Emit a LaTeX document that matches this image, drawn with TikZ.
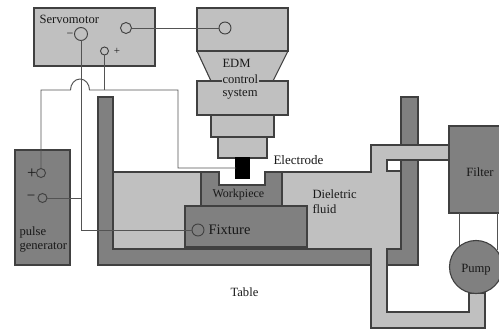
\documentclass[tikz,border=0pt]{standalone}
\usepackage{fontspec}
\setmainfont{Liberation Serif}
\usepackage{xcolor}
\usetikzlibrary{calc}
\definecolor{lightgr}{HTML}{C0C0C0}
\definecolor{darkgr}{HTML}{808080}
\definecolor{edgegr}{HTML}{404040}

\begin{document}
\begin{tikzpicture}[x=1pt, y=-1pt, line width=1.1pt,
      blk/.style={draw=edgegr, fill=lightgr, inner sep=0pt, outer sep=0pt},
      dblk/.style={blk, fill=darkgr},
      part/.style={draw=edgegr, fill=lightgr, line join=miter},
      wire/.style={draw=edgegr!90, line width=0.95pt},
      term/.style={circle, draw=edgegr, line width=0.95pt, inner sep=0pt, outer sep=0pt},
      lbl/.style={inner sep=0pt, font=\fontsize{12.6}{12.6}\selectfont, text=black!90}]
    \clip (0,0) rectangle (499,329);
    \fill[white] (0,0) rectangle (499,329);
    % tank and fluid
    \draw[part, fill=darkgr] (98,97) -- (113,97) -- (113,249) -- (401,249) -- (401,97) -- (418,97) -- (418,265) -- (98,265) -- cycle;
    \draw[part] (113,172) -- (219,172) -- (219,185) -- (265,185) -- (265,172) -- (371,172) -- (371,145) -- (449,145) -- (449,160) -- (387,160) -- (387,171) -- (401,171) -- (401,249) -- (387,249) -- (387,312) -- (469,312) -- (469,293) -- (485,293) -- (485,328) -- (371,328) -- (371,249) -- (113,249) -- cycle;
    \draw[part, fill=darkgr] (201,172) -- (219,172) -- (219,185) -- (265,185) -- (265,172) -- (282,172) -- (282,206) -- (201,206) -- cycle;
    % EDM head
    \draw[part] (197,51) -- (288,51) -- (273,81) -- (211,81) -- cycle;
    \node[blk, minimum width=91pt, minimum height=43pt] (head) at (242.5,29.5) {};
    \node[blk, minimum width=91pt, minimum height=34pt] (ctrl) at (242.5,98) {};
    \node[blk, minimum width=63pt, minimum height=22pt] (neck) at (242.5,126) {};
    \node[blk, minimum width=49pt, minimum height=21pt] (tip) at (242.5,147.5) {};
    % boxes
    \node[blk, minimum width=121pt, minimum height=58pt] (servo) at (94.5,37) {};
    \node[dblk, minimum width=55pt, minimum height=115pt] (pulse) at (42.5,207.5) {};
    \node[dblk, minimum width=122pt, minimum height=41pt] (fixture) at (246,226.5) {};
    \node[dblk, minimum width=52pt, minimum height=87pt] (filter) at (475,169.5) {};
    % terminals
    \node[term, fill=lightgr, minimum size=13pt] (svMinus) at (81,34) {};
    \node[term, fill=lightgr, minimum size=11pt] (svOut) at (126,28) {};
    \node[term, fill=lightgr, minimum size=8pt] (svPlus) at (104.5,51) {};
    \node[term, fill=lightgr, minimum size=12pt] (edmIn) at (225,28) {};
    \node[term, fill=darkgr, minimum size=9pt] (pgPlus) at (41,173) {};
    \node[term, fill=darkgr, minimum size=9pt] (pgMinus) at (42.5,198) {};
    \node[term, fill=darkgr, minimum size=12pt] (fixTerm) at (198,230) {};
    % wires
    \coordinate (hopL) at (70.5,90);
    \coordinate (hopR) at (89.5,90);
    \coordinate (bend) at (178,90);
    \coordinate (pumpL) at (459,250);
    \coordinate (pumpR) at (497,250);
    \node[blk, fill=black, draw=black, minimum width=13pt, minimum height=20pt] (electrode) at (242.5,168) {};
    \draw[wire] (svOut) -- (edmIn);
    \draw[wire] (svMinus) |- (fixTerm);
    \draw[wire] (pgMinus) -- (pgMinus -| svMinus);
    \draw[wire] (svPlus) -- (svPlus |- hopR);
    \draw[wire] (pgPlus) |- (hopL) arc[start angle=180, end angle=360, x radius=9.5, y radius=11] -- (bend) |- (electrode.west);
    \draw[wire] (filter.south -| pumpL) -- (pumpL);
    \draw[wire] (filter.south -| pumpR) -- (pumpR);
    \node[dblk, circle, minimum size=53pt] (pump) at (476,267) {};
    % labels
    \node[lbl, anchor=west] (servoText) at (39,19) {Servomotor};
    \node[lbl, anchor=east, font=\fontsize{12}{12}\selectfont] (svMinusText) at (74,35) {−};
    \node[lbl, font=\fontsize{11}{11}\selectfont] (svPlusText) at (117,51) {+};
    \node[lbl, anchor=west] (edmText) at (222,63) {EDM};
    \node[lbl, anchor=west, fill=lightgr, inner xsep=1pt] (controlText) at (221,79) {control};
    \node[lbl, anchor=west] (systemText) at (222,94) {system};
    \node[lbl, anchor=west, font=\fontsize{13}{13}\selectfont] (electrodeText) at (273,160) {Electrode};
    \node[lbl, anchor=west, font=\fontsize{12}{12}\selectfont] (workText) at (212,195) {Workpiece};
    \node[lbl, anchor=west, font=\fontsize{14.5}{14.5}\selectfont] (fixText) at (208,230) {Fixture};
    \node[lbl, anchor=west] (fluidText) at (312,194) {Dieletric};
    \node[lbl, anchor=west] (fluidText2) at (312,209) {fluid};
    \node[lbl, anchor=west] (tableText) at (230,292) {Table};
    \node[lbl] (filterText) at (480,172) {Filter};
    \node[lbl] (pumpText) at (476,270) {Pump};
    \node[lbl, anchor=west] (pulseText) at (19,232) {pulse};
    \node[lbl, anchor=west] (genText) at (19,247) {generator};
    \node[lbl, font=\fontsize{17}{17}\selectfont] (pgPlusText) at (32,174) {+};
    \node[lbl, font=\fontsize{15}{15}\selectfont] (pgMinusText) at (31,198) {−};
  \end{tikzpicture}
\end{document}
